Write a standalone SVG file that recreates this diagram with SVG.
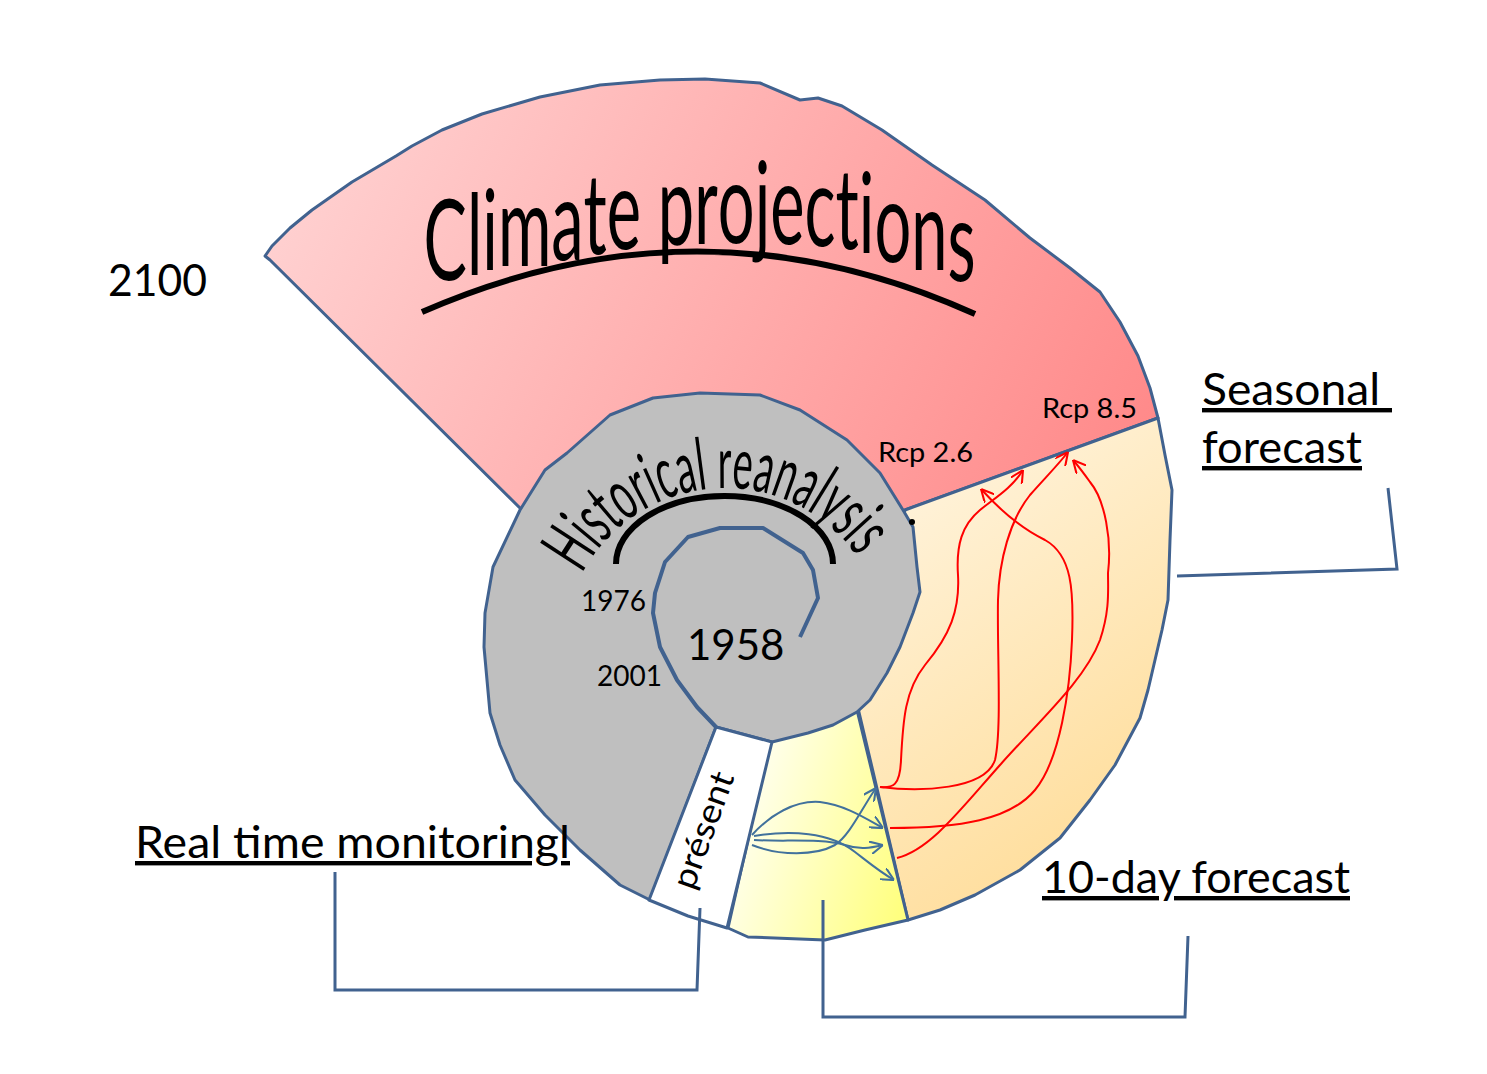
<svg xmlns="http://www.w3.org/2000/svg" width="1487" height="1074" viewBox="0 0 1487 1074">
<style>
.outline{stroke:#41628F;stroke-width:3;stroke-linejoin:round}
.lbl{font-family:Lato,'Open Sans','Liberation Sans',sans-serif;fill:#000}
.ul{text-decoration:underline}
.bracket{fill:none;stroke:#41628F;stroke-width:3}
.red{fill:none;stroke:#FF0000;stroke-width:2}
.blue{fill:none;stroke:#41719C;stroke-width:2}
</style>
<defs>
<linearGradient id="gRed" gradientUnits="userSpaceOnUse" x1="300" y1="100" x2="1100" y2="520">
<stop offset="0" stop-color="#FFD3D3"/><stop offset="1" stop-color="#FF8A8A"/>
</linearGradient>
<linearGradient id="gOrange" gradientUnits="userSpaceOnUse" x1="910" y1="500" x2="1170" y2="860">
<stop offset="0" stop-color="#FFF2D8"/><stop offset="1" stop-color="#FFDB94"/>
</linearGradient>
<linearGradient id="gYellow" gradientUnits="userSpaceOnUse" x1="740" y1="860" x2="900" y2="910">
<stop offset="0" stop-color="#FFFFE6"/><stop offset="1" stop-color="#FFFF80"/>
</linearGradient>
<marker id="arrRed" viewBox="0 0 10 10" refX="10" refY="5" markerWidth="13" markerHeight="13" markerUnits="userSpaceOnUse" orient="auto">
<path d="M0,0 L10,5 L0,10" fill="none" stroke="#FF0000" stroke-width="1.6"/>
</marker>
<marker id="arrBlue" viewBox="0 0 10 10" refX="10" refY="5" markerWidth="13" markerHeight="13" markerUnits="userSpaceOnUse" orient="auto">
<path d="M0,0 L10,5 L0,10" fill="none" stroke="#41719C" stroke-width="1.6"/>
</marker>
<path id="histArc" d="M582,573.9 A162,162 0 0,1 857.7,557.1"/>
</defs>

<g id="climate-projections">
<path class="outline" fill="url(#gRed)" d="M265,256 L272,246 L290,228 L312,210 L352,182 L396,156 L412,146 L442,130 L482,114 L540,97 L600,85 L660,80 L705,79 L760,83 L800,100 L818,98 L842,106 L882,130 L932,165 L985,200 L1030,238 L1070,268 L1100,292 L1120,322 L1138,356 L1150,388 L1158,418 L905,510 L720,560 L522,510 L270,260 Z"/>
<text class="lbl" font-size="112" transform="scale(0.6,1)" x="706" y="280 275 271 266 260 254 249 246 245 244 243 243 244 246 249 254 262 270 281" textLength="920" lengthAdjust="spacingAndGlyphs">Climate projections</text>
<path d="M422,312 Q700,190 975,314" fill="none" stroke="#000" stroke-width="6"/>
<text class="lbl" font-size="27" x="1042" y="418" textLength="95" lengthAdjust="spacingAndGlyphs">Rcp 8.5</text>
<text class="lbl" font-size="27" x="878" y="462" textLength="95" lengthAdjust="spacingAndGlyphs">Rcp 2.6</text>
</g>

<g id="seasonal-forecast">
<path class="outline" fill="url(#gOrange)" d="M905,510 L1158,418 L1165,455 L1172,490 L1170,540 L1168,600 L1162,630 L1148,690 L1140,718 L1115,765 L1090,800 L1060,838 L1020,870 L975,895 L940,910 L908,920 L858,708 Z"/>
</g>

<g id="ten-day-forecast">
<path class="outline" fill="url(#gYellow)" d="M770,742 L857,710 L908,920 L865,930 L825,940 L748,937 L728,928 Z"/>
</g>

<g id="historical-reanalysis">
<path class="outline" fill="#BFBFBF" d="M650,900 L620,885 L580,850 L545,815 L515,780 L500,745 L490,713 L484,647 L485,613 L493,567 L520,510 L545,470 L567,453 L610,415 L653,398 L700,393 L760,395 L800,410 L847,440 L880,473 L903,510 L913,527 L917,567 L920,592 L913,613 L900,647 L887,673 L870,700 L857,712 L833,725 L808,733 L772,742 L716,727 Z"/>
<path d="M800,637 L818,598 L813,570 L803,553 L763,528 L720,528 L688,537 L665,562 L655,593 L653,613 L660,647 L677,680 L697,707 L716,727" fill="none" stroke="#41628F" stroke-width="4" stroke-linejoin="round"/>
<text class="lbl" font-size="72"><textPath href="#histArc" textLength="330" lengthAdjust="spacingAndGlyphs">Historical reanalysis</textPath></text>
<path d="M616,564 A108.5,68 0 0,1 833,564" fill="none" stroke="#000" stroke-width="6"/>
<circle cx="912" cy="522" r="3" fill="#000"/>
<text class="lbl" font-size="28" x="581" y="611">1976</text>
<text class="lbl" font-size="28" x="597" y="686">2001</text>
<text class="lbl" font-size="42" x="687" y="660">1958</text>
</g>

<g id="present">
<path class="outline" fill="#FFFFFF" d="M716,727 L772,742 L727,928 L688,916 L649,900 Z"/>
<text class="lbl" font-size="34" text-anchor="middle" textLength="122" lengthAdjust="spacingAndGlyphs" transform="translate(714,834) rotate(-70)" x="0" y="0">présent</text>
</g>

<g id="labels">
<text class="lbl" font-size="44" x="108" y="296" textLength="99" lengthAdjust="spacingAndGlyphs">2100</text>
<text class="lbl ul" font-size="44" x="1202" y="405" textLength="190" lengthAdjust="spacingAndGlyphs" xml:space="preserve">Seasonal </text>
<text class="lbl ul" font-size="44" x="1202" y="463" textLength="160" lengthAdjust="spacingAndGlyphs">forecast</text>
<text class="lbl ul" font-size="44" x="1042" y="893" textLength="308" lengthAdjust="spacingAndGlyphs">10-day forecast</text>
<text class="lbl ul" font-size="44" x="135" y="858" textLength="435" lengthAdjust="spacingAndGlyphs">Real time monitoringl</text>
</g>

<g id="connectors">
<path class="bracket" d="M1177,576 L1397,569 L1388,488"/>
<path class="bracket" d="M335,872 L335,990 L697,990 L700,908"/>
<path class="bracket" d="M823,900 L823,1017 L1185,1017 L1188,936"/>
<path class="red" marker-end="url(#arrRed)" d="M880,787 C893,788 900,786 901,760 C903,720 905,690 925,665 C950,635 960,610 958,575 C956,545 962,525 980,510 C995,498 1012,488 1023,470"/>
<path class="red" marker-end="url(#arrRed)" d="M880,787 C920,792 985,790 995,760 C1002,730 997,650 998,600 C999,560 1010,520 1030,495 C1045,478 1058,465 1068,452"/>
<path class="red" marker-end="url(#arrRed)" d="M890,828 C960,828 1010,820 1035,790 C1060,760 1070,690 1072,640 C1074,590 1072,555 1045,540 C1020,528 1000,510 981,489"/>
<path class="red" marker-end="url(#arrRed)" d="M897,858 C930,850 960,810 1000,765 C1040,720 1085,680 1100,640 C1110,610 1108,590 1108,573 C1112,540 1105,500 1090,482 C1085,475 1080,468 1073,460"/>
<path class="blue" marker-end="url(#arrBlue)" d="M752,835 C770,815 795,800 820,802 C845,805 865,818 883,828"/>
<path class="blue" marker-end="url(#arrBlue)" d="M752,845 C780,856 815,856 835,845 C850,835 862,808 876,788"/>
<path class="blue" marker-end="url(#arrBlue)" d="M754,840 C785,842 820,838 845,845 C860,850 870,848 883,845"/>
<path class="blue" marker-end="url(#arrBlue)" d="M754,836 C790,830 830,832 855,852 C868,862 880,872 894,880"/>
</g>
</svg>
